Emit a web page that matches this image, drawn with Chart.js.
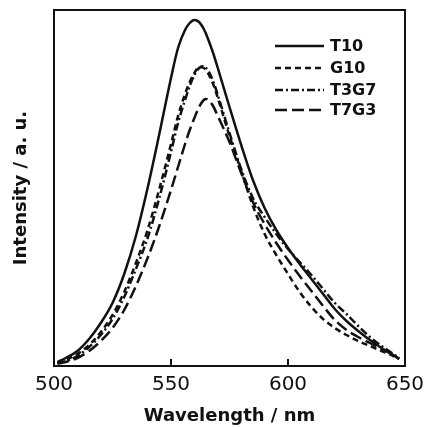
<!DOCTYPE html>
<html>
<head>
<meta charset="utf-8">
<script src="https://cdn.jsdelivr.net/npm/chart.js@4.4.1/dist/chart.umd.min.js"></script>
<style>
  html, body { margin: 0; padding: 0; background: #fff; }
  #wrap { width: 425px; height: 427px; position: relative; }
</style>
</head>
<body>
<div id="wrap"><canvas id="espectro"></canvas></div>
<script>
// comprimentos de onda (nm)
const comprimentos = [501.5, 505, 510, 515, 520, 525, 530, 535, 540, 545, 550, 553, 556, 558, 560, 562, 564, 565, 566, 568,
    570, 575, 580, 585, 590, 595, 600, 605, 610, 615, 620, 625, 630, 635, 640, 645, 647.5];

// intensidades (u.a., escala arbitrária)
const t10  = [4, 8, 15, 27, 43, 63, 92, 130, 178, 232, 288, 318, 336, 343, 346, 344, 337, 332, 326, 313,
    298, 259, 221, 186, 158, 136, 118, 102, 87, 72, 57, 45, 35, 26, 18, 11, 7];
const g10  = [3, 6, 12, 21, 34, 51, 74, 103, 136, 177, 222, 250, 272, 284, 293, 299, 298, 296, 292, 282,
    268, 230, 195, 160, 132, 111, 92, 74, 59, 47, 38, 31, 25, 20, 15, 10, 7];
const t3g7 = [3, 5, 10, 19, 31, 47, 69, 97, 128, 168, 214, 243, 266, 280, 291, 298, 300, 298, 295, 285,
    271, 233, 197, 168, 149, 132, 117, 104, 91, 77, 63, 52, 40, 29, 20, 12, 8];
const t7g3 = [2, 4, 8, 15, 25, 38, 56, 80, 108, 140, 176, 199, 222, 236, 248, 259, 266, 267, 266, 260,
    250, 224, 193, 164, 142, 123, 106, 90, 75, 60, 46, 36, 29, 23, 17, 11, 7];

const nomes = ['T10', 'G10', 'T3G7', 'T7G3'];
const series = [t10, g10, t3g7, t7g3];
const tracos = [[], [6, 4], [8, 3, 2, 3], [12, 5]];
const ticksX = [500, 550, 600, 650];

const COR = '#111';

function montarPontos(valores) {
    return comprimentos.map(function (x, i) { return { x: x, y: valores[i] }; });
}

// moldura, marcas internas e legenda
const molduraPlugin = {
    id: 'moldura',
    afterDraw: function (chart) {
        const ctx = chart.ctx;
        const a = chart.chartArea;
        ctx.save();
        ctx.strokeStyle = COR;
        ctx.lineWidth = 2;
        ctx.setLineDash([]);
        ctx.strokeRect(a.left, a.top, a.right - a.left, a.bottom - a.top);

        // marcas para dentro no eixo x
        const sx = chart.scales.x;
        ticksX.forEach(function (v) {
            if (v === sx.min || v === sx.max) return;
            const px = sx.getPixelForValue(v);
            ctx.beginPath();
            ctx.moveTo(px, a.bottom);
            ctx.lineTo(px, a.bottom - 7);
            ctx.stroke();
        });

        // legenda
        const ys = [46, 68, 90, 110];
        ctx.font = 'bold 16px "DejaVu Sans"';
        ctx.fillStyle = COR;
        ctx.textBaseline = 'middle';
        chart.data.datasets.forEach(function (ds, i) {
            ctx.lineWidth = 2.5;
            ctx.setLineDash(ds.borderDash || []);
            ctx.beginPath();
            ctx.moveTo(275, ys[i]);
            ctx.lineTo(324, ys[i]);
            ctx.stroke();
            ctx.setLineDash([]);
            ctx.fillText(ds.label, 330, ys[i] + 1);
        });
        ctx.restore();
    }
};

const datasets = series.map(function (valores, i) {
    return {
        label: nomes[i],
        data: montarPontos(valores),
        borderColor: COR,
        borderWidth: 2.5,
        borderDash: tracos[i],
        pointRadius: 0,
        fill: false,
        cubicInterpolationMode: 'monotone'
    };
});

new Chart(document.getElementById('espectro'), {
    type: 'line',
    data: { datasets: datasets },
    plugins: [molduraPlugin],
    options: {
        responsive: true,
        maintainAspectRatio: false,
        animation: false,
        devicePixelRatio: 1,
        layout: { padding: { top: 10, right: 20, left: 0, bottom: 0 } },
        plugins: {
            legend: { display: false },
            tooltip: { enabled: false }
        },
        scales: {
            x: {
                type: 'linear',
                min: 500,
                max: 650,
                afterFit: function (scale) {
                    scale.height = 61;
                    scale.paddingLeft = 0;
                    scale.paddingRight = 0;
                },
                afterBuildTicks: function (scale) {
                    scale.ticks = ticksX.map(function (v) { return { value: v }; });
                },
                grid: { display: false, drawTicks: false },
                border: { display: false },
                ticks: {
                    color: COR,
                    padding: 7,
                    font: { family: 'DejaVu Sans', size: 20 },
                    maxRotation: 0
                },
                title: {
                    display: true,
                    text: 'Wavelength / nm',
                    color: COR,
                    font: { family: 'DejaVu Sans', size: 18, weight: 'bold' },
                    padding: { top: 2, bottom: 0 }
                }
            },
            y: {
                min: 0,
                max: 356,
                afterFit: function (scale) { scale.width = 54; },
                grid: { display: false, drawTicks: false },
                border: { display: false },
                ticks: { display: false },
                title: {
                    display: true,
                    text: 'Intensity / a. u.',
                    color: COR,
                    font: { family: 'DejaVu Sans', size: 18, weight: 'bold' },
                    padding: { top: 11, bottom: 0 }
                }
            }
        }
    }
});
</script>
</body>
</html>
